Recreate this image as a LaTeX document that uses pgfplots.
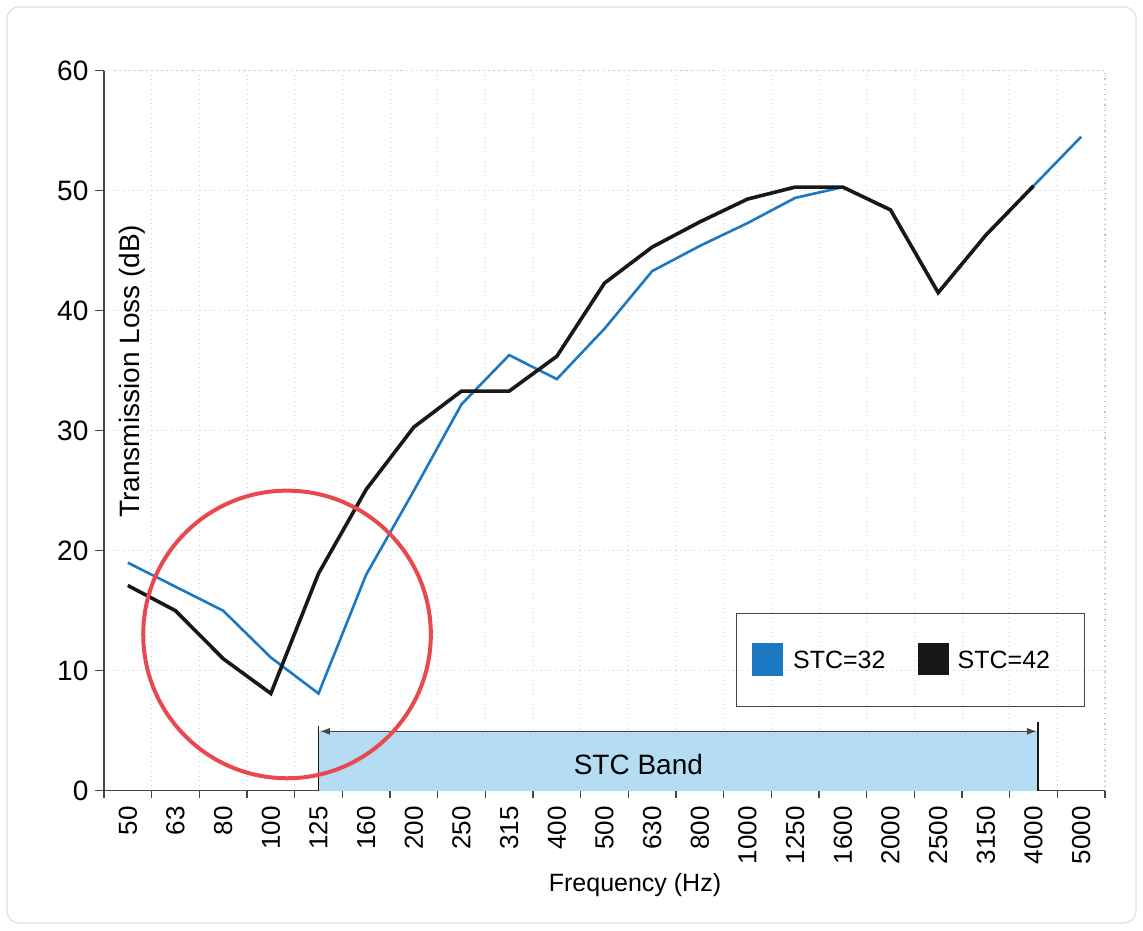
\documentclass[border=0pt]{standalone}
\usepackage{pgfplots}
\pgfplotsset{compat=1.18}
\usepackage{fontspec}
\setmainfont{Liberation Sans}
\usetikzlibrary{arrows.meta}

\definecolor{stcblue}{RGB}{28,120,192}
\definecolor{stcblack}{RGB}{24,24,24}
\definecolor{bandfill}{RGB}{180,221,243}
\definecolor{ringred}{RGB}{232,72,78}
\definecolor{gridgray}{RGB}{205,205,205}
\definecolor{axisgray}{RGB}{70,70,70}

\begin{document}
\begin{tikzpicture}[x=1pt,y=1pt]
% page frame
\useasboundingbox (-52,-69.65) rectangle (519.5,395.35);
\draw[gray!25, line width=0.6pt, rounded corners=6pt] (-48.5,-66.15) rectangle (516,391.85);

\begin{axis}[
  at={(0,0)}, anchor=south west,
  scale only axis, width=500.5pt, height=360pt,
  xmin=-0.5, xmax=20.5, ymin=0, ymax=60,
  axis x line*=bottom, axis y line*=left,
  axis line style={axisgray, line width=0.7pt},
  tick align=outside,
  xtick={0,...,20},
  xticklabels={50,63,80,100,125,160,200,250,315,400,500,630,800,1000,1250,1600,2000,2500,3150,4000,5000},
  minor xtick={-0.5,0.5,...,20.5},
  every major x tick/.style={draw=none},
  minor tick length=3.5pt,
  major tick length=4.3pt,
  tick style={axisgray, line width=0.6pt},
  ytick={0,10,...,60},
  xticklabel style={rotate=90, anchor=east, font=\fontsize{13}{15}\selectfont},
  yticklabel style={font=\fontsize{14}{16}\selectfont},
  /pgf/number format/assume math mode=true,
  ymajorgrids=true, xminorgrids=true, xmajorgrids=false,
  major grid style={gridgray, dotted, line width=0.5pt},
  minor grid style={gridgray, dotted, line width=0.5pt},
  clip=false,
]
% STC band background
\fill[bandfill] (axis cs:4,0) rectangle (axis cs:19.1,4.95);
\draw[stcblack, line width=0.8pt] (axis cs:4,0) -- (axis cs:4,5.4);
\draw[stcblack, line width=0.8pt] (axis cs:19.1,0) -- (axis cs:19.1,5.7);
\draw[{Latex[length=5pt,width=3.5pt]}-{Latex[length=5pt,width=3.5pt]}, axisgray, line width=0.6pt]
  (axis cs:4.03,4.95) -- (axis cs:19.07,4.95);
\node[font=\fontsize{14}{16}\selectfont] at (axis cs:10.71,2.2) {STC Band};

% STC = 32
\addplot[stcblue, line width=1.3pt] coordinates {
 (0,19.0) (1,17.0) (2,15.0) (3,11.1) (4,8.1) (5,18.0) (6,25.0) (7,32.2)
 (8,36.3) (9,34.3) (10,38.5) (11,43.3) (12,45.4) (13,47.3) (14,49.4)
 (15,50.3) (16,48.4) (17,41.5) (18,46.3) (19,50.4) (20,54.5)
};
% STC = 42
\addplot[stcblack, line width=1.8pt] coordinates {
 (0,17.1) (1,15.0) (2,11.0) (3,8.1) (4,18.1) (5,25.1) (6,30.3) (7,33.3)
 (8,33.3) (9,36.2) (10,42.3) (11,45.3) (12,47.4) (13,49.3) (14,50.3)
 (15,50.3) (16,48.4) (17,41.5) (18,46.3) (19,50.4)
};

% highlighted low-frequency dip
\draw[ringred, line width=2pt] (axis cs:3.34,13.02) circle[radius=71.9pt];

% faint top and right plot-area border
\draw[gray!45, dotted, line width=0.6pt] (rel axis cs:0,1) -- (rel axis cs:1,1) -- (rel axis cs:1,0);
\end{axis}

% legend
\draw[axisgray, line width=0.7pt] (316.35,42.0) rectangle (490.15,88.7);
\fill[stcblue] (323.85,57.35) rectangle (339.65,73.7);
\node[anchor=base west, inner sep=0pt, font=\fontsize{12.5}{15}\selectfont] at (344.35,60.85) {STC=32};
\fill[stcblack] (407.15,57.85) rectangle (422.65,74.0);
\node[anchor=base west, inner sep=0pt, font=\fontsize{12.5}{15}\selectfont] at (426.65,60.85) {STC=42};

% axis titles
\node[anchor=base, inner sep=0pt, font=\fontsize{12.5}{15}\selectfont] at (265.5,-50.5) {Frequency (Hz)};
\node[rotate=90, inner sep=0pt, font=\fontsize{14}{16}\selectfont] at (14.25,209.75) {Transmission Loss (dB)};
\end{tikzpicture}
\end{document}
